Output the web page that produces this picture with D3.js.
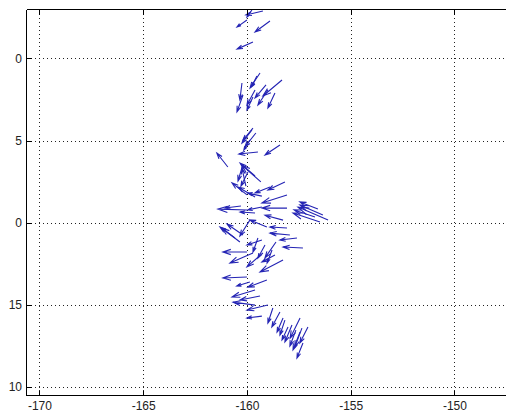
<!DOCTYPE html>
<meta charset="utf-8">
<style>
body { margin: 0; background: #fff; }
svg { display: block; }
.tick text { font-family: "Liberation Sans", Arial, sans-serif; font-size: 12px; fill: #222; }
.grid line { stroke: #222; stroke-width: 1; stroke-dasharray: 1,3; shape-rendering: crispEdges; }
.frame { stroke: #000; stroke-width: 1; shape-rendering: crispEdges; }
.arrow { stroke: #2424b4; stroke-width: 1.1; fill: none; }
</style>
<body>
<script src="https://cdnjs.cloudflare.com/ajax/libs/d3/7.8.5/d3.min.js"></script>
<script>
// tick values and the labels as they show in the picture (left part is cut off)
var xTicks = [-170, -165, -160, -155, -150];
var yTicks = [20, 15, 10, 5, 0];
var yTickLabels = ["0", "5", "0", "15", "10"];

// quiver data: tail position and vector components
var lon = [-159.23,-159.76,-160.00,-158.89,-159.71,
  -159.37,-159.52,-160.19,-160.24,-159.71,-158.99,-158.31,-158.65,-159.08,-159.61,
  -159.71,-159.76,-159.57,-160.92,-159.47,-158.41,-159.33,-160.05,-159.61,-160.00,-159.61,-158.17,-159.28,-158.07,
  -160.00,-159.28,-158.07,-160.29,-158.26,-156.09,-156.48,-156.34,-156.72,
  -160.58,-160.34,-160.19,-159.86,-159.04,-158.07,-157.93,-157.59,-157.30,-160.00,-159.47,-159.71,-159.23,-158.79,-158.26,-160.00,-158.60,-159.13,
  -159.04,-159.61,-159.61,-158.99,-159.37,
  -158.75,-158.41,-158.26,-158.17,-158.02,-157.83,-157.44,-157.35,-157.30,-157.06,-157.44,-157.64,
  -159.86,-160.19,-159.95,-158.89,-159.61,-159.28,-158.65,-159.86,-159.28,-156.58];
var lat = [22.88,22.94,22.33,22.27,20.99,
  19.11,18.92,17.77,18.50,17.65,18.07,18.68,17.89,18.38,18.07,
  15.76,15.64,15.46,13.39,14.30,14.73,12.48,12.23,12.84,11.69,11.56,12.48,11.62,11.69,
  10.77,10.96,10.89,11.02,10.16,10.16,10.04,10.47,10.35,
  9.07,8.83,9.25,10.16,9.74,9.68,9.25,9.07,8.46,8.22,9.07,8.16,8.16,8.34,7.73,6.70,8.83,8.64,
  6.51,5.91,4.99,4.99,5.54,
  4.81,4.57,4.20,4.08,3.66,3.78,4.20,3.59,2.68,3.66,3.35,3.47,
  15.03,13.57,13.08,12.17,10.59,8.95,8.04,6.39,4.32,10.83];
var u = [-0.82,-0.24,-0.48,-0.72,-0.77,
  -0.48,-0.24,-0.29,-0.10,-0.29,-0.48,-0.92,-0.34,-0.53,-0.39,
  -0.48,-0.48,-0.53,-0.53,-0.92,-0.72,-0.92,-0.19,-0.72,-0.72,-0.82,-0.82,-0.68,-1.21,
  -1.40,-0.68,-1.21,-0.77,-0.87,-1.45,-1.30,-1.11,-1.01,
  -0.72,-0.87,-0.77,-0.48,-0.82,-0.82,-0.96,-0.82,-0.96,-1.16,-0.24,-1.11,-0.77,-0.24,-1.11,-1.16,-0.53,-0.34,
  -0.92,-1.11,-1.06,-1.01,-0.96,
  -0.24,-0.39,-0.29,-0.24,-0.29,-0.34,-0.48,-0.34,-0.29,-0.39,-0.34,-0.29,
  -0.29,-0.24,-0.34,-0.72,-0.72,-0.72,-0.63,-0.63,-0.72,-0.87];
var v = [-0.24,-0.43,-0.43,-0.67,-0.43,
  -0.91,-0.61,-1.03,-1.03,-0.79,-0.91,-0.97,-0.91,-0.79,-0.91,
  -0.73,-0.79,-0.85,0.85,-0.12,-0.61,1.03,1.09,0.79,0.73,0.61,-0.49,0.18,-0.49,
  0.06,-0.18,0.00,-0.12,0.30,0.79,0.55,0.61,0.43,
  0.67,0.85,0.67,-0.97,0.43,0.06,0.12,-0.12,0.06,0.00,-0.85,-0.61,-0.85,-0.79,-0.73,-0.06,-0.97,-0.79,
  -0.43,-0.43,0.18,-0.30,-0.24,
  -0.91,-0.91,-0.85,-0.91,-0.79,-1.03,-1.22,-1.16,-0.91,-0.97,-1.09,-0.97,
  -0.61,-1.03,-0.85,-0.36,0.06,-0.30,-0.43,-0.24,-0.12,0.43];

var width = 506, height = 418;

var x = d3.scaleLinear().domain([-170.6, -146.84]).range([27, 520]);
var y = d3.scaleLinear().domain([-0.54, 22.94]).range([396, 10]);

var svg = d3.select("body").append("svg")
    .attr("width", width)
    .attr("height", height);

// dotted grid
var grid = svg.append("g").attr("class", "grid");
grid.selectAll(".vx").data(xTicks).enter().append("line")
    .attr("x1", function(d) { return Math.round(x(d)) + 0.5; })
    .attr("x2", function(d) { return Math.round(x(d)) + 0.5; })
    .attr("y1", y.range()[1]).attr("y2", y.range()[0]);
grid.selectAll(".hy").data(yTicks).enter().append("line")
    .attr("y1", function(d) { return Math.round(y(d)) + 0.5; })
    .attr("y2", function(d) { return Math.round(y(d)) + 0.5; })
    .attr("x1", x.range()[0]).attr("x2", x.range()[1]);

// arrows, matlab quiver style head
var alpha = 0.33, beta = 0.33;
var arrows = lon.map(function(d, i) {
  var x0 = x(d), y0 = y(lat[i]);
  var x1 = x(d + u[i]), y1 = y(lat[i] + v[i]);
  var du = x1 - x0, dv = y1 - y0;
  return "M" + x0 + "," + y0 + "L" + x1 + "," + y1 +
    "M" + (x1 - alpha * (du + beta * dv)) + "," + (y1 - alpha * (dv - beta * du)) +
    "L" + x1 + "," + y1 +
    "L" + (x1 - alpha * (du - beta * dv)) + "," + (y1 - alpha * (dv + beta * du));
});
svg.append("g").selectAll("path").data(arrows).enter().append("path")
    .attr("class", "arrow")
    .attr("d", function(d) { return d; });

// axes (ticks point inward)
svg.append("g")
    .attr("transform", "translate(0," + y.range()[0] + ")")
    .call(d3.axisBottom(x).tickValues(xTicks).tickSizeInner(-5).tickSizeOuter(0).tickPadding(5)
      .tickFormat(String))
    .call(function(g) { g.select(".domain").remove(); });

svg.append("g")
    .attr("transform", "translate(" + x.range()[0] + ",0)")
    .call(d3.axisLeft(y).tickValues(yTicks).tickSizeInner(-5).tickSizeOuter(0).tickPadding(5)
      .tickFormat(function(d, i) { return yTickLabels[i]; }))
    .call(function(g) { g.select(".domain").remove(); });

svg.append("g")
    .attr("transform", "translate(0," + y.range()[1] + ")")
    .call(d3.axisTop(x).tickValues(xTicks).tickSizeInner(-5).tickSizeOuter(0).tickFormat(""))
    .call(function(g) { g.select(".domain").remove(); });

svg.selectAll(".tick line").attr("stroke", "#000").style("shape-rendering", "crispEdges");

// frame
svg.append("line").attr("class", "frame")
    .attr("x1", 26.5).attr("x2", 26.5).attr("y1", 10).attr("y2", 396);
svg.append("line").attr("class", "frame")
    .attr("x1", 26.5).attr("x2", 520).attr("y1", 9.5).attr("y2", 9.5);
svg.append("line").attr("class", "frame")
    .attr("x1", 26.5).attr("x2", 520).attr("y1", 395.5).attr("y2", 395.5);
</script>
</body>
